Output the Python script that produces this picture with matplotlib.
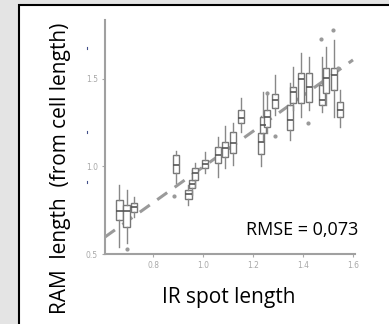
import matplotlib.pyplot as plt
from matplotlib.patches import Rectangle

# box summaries
pos    = [0.665, 0.695, 0.724, 0.892, 0.941, 0.955, 0.968, 1.008, 1.061, 1.088, 1.119, 1.151,
          1.232, 1.240, 1.256, 1.288, 1.348, 1.360, 1.392, 1.424, 1.476, 1.492, 1.524, 1.548]
whislo = [0.540, 0.565, 0.713, 0.906, 0.780, 0.837, 0.885, 0.961, 0.942, 0.990, 1.009, 1.199,
          1.000, 1.151, 1.191, 1.294, 1.151, 1.320, 1.283, 1.323, 1.311, 1.351, 1.283, 1.226]
q1     = [0.694, 0.654, 0.742, 0.963, 0.812, 0.875, 0.923, 0.990, 1.018, 1.056, 1.075, 1.247,
          1.071, 1.191, 1.226, 1.334, 1.209, 1.363, 1.363, 1.369, 1.351, 1.420, 1.437, 1.283]
med    = [0.747, 0.746, 0.770, 1.009, 0.840, 0.898, 0.961, 1.014, 1.066, 1.104, 1.133, 1.275,
          1.142, 1.237, 1.283, 1.380, 1.266, 1.426, 1.500, 1.454, 1.380, 1.506, 1.523, 1.323]
q3     = [0.809, 0.780, 0.790, 1.066, 0.866, 0.923, 0.990, 1.037, 1.113, 1.142, 1.199, 1.323,
          1.190, 1.283, 1.323, 1.414, 1.351, 1.454, 1.534, 1.534, 1.466, 1.563, 1.563, 1.369]
whishi = [0.894, 0.866, 0.827, 1.090, 0.894, 0.980, 1.018, 1.080, 1.170, 1.230, 1.246, 1.390,
          1.289, 1.426, 1.426, 1.523, 1.477, 1.569, 1.649, 1.626, 1.626, 1.683, 1.723, 1.437]

out_x = [0.696, 0.884, 1.256, 1.288, 1.420, 1.472, 1.520, 1.540]
out_y = [0.527, 0.831, 1.420, 1.174, 1.249, 1.729, 1.780, 1.563]

fit_slope, fit_icpt = 1.02, -0.023
fit_x = [0.608, 1.60]

fig = plt.figure(figsize=(3.89, 3.24), dpi=100)
fig.patch.set_facecolor('#e4e4e4')

# white panel with black frame, behind everything
bg = fig.add_axes([0, 0, 1, 1], zorder=-1)
bg.set_xlim(0, 389)
bg.set_ylim(324, 0)
bg.axis('off')
bg.add_patch(Rectangle((19.5, 4.5), 400, 400, facecolor='white', edgecolor='black', lw=1.5))
for yy in [48, 132, 182]:
    bg.plot([87, 87], [yy - 1, yy + 1], color='#44508a', lw=0.8)

ax = fig.add_axes([105 / 389, 70 / 324, 250 / 389, 234 / 324])
ax.set_facecolor('none')

ax.plot(fit_x, [fit_slope * v + fit_icpt for v in fit_x], color='#9a9a9a', lw=2.2,
        dashes=(4, 3), zorder=1)

stats = [dict(whislo=a, q1=b, med=c, q3=d, whishi=e, fliers=[])
         for a, b, c, d, e in zip(whislo, q1, med, q3, whishi)]
ax.bxp(stats, positions=pos, widths=0.026, showcaps=False, patch_artist=True, manage_ticks=False,
       boxprops=dict(facecolor='white', edgecolor='#777777', lw=1.0),
       whiskerprops=dict(color='#888888', lw=1.0),
       medianprops=dict(color='#555555', lw=1.2))
ax.scatter(out_x, out_y, s=4, color='#999999', zorder=3)

ax.set_xlim(0.608, 1.608)
ax.set_ylim(0.5, 1.837)
ax.set_xticks([0.8, 1.0, 1.2, 1.4, 1.6])
ax.set_yticks([0.5, 1.0, 1.5])
ax.set_xticklabels(['0.8', '1.0', '1.2', '1.4', '1.6'])
ax.set_yticklabels(['0.5', '1.0', '1.5'])
ax.tick_params(labelsize=5.5, colors='#a8a8a8', length=2, width=0.8, pad=3)
for s in ['top', 'right']:
    ax.spines[s].set_visible(False)
for s in ['left', 'bottom']:
    ax.spines[s].set_color('#a0a0a0')
    ax.spines[s].set_linewidth(1.5)

fig.text(61 / 389, 1 - 168 / 324, 'RAM  length  (from cell length)', rotation=90,
         ha='center', va='center', fontsize=15, family='Open Sans')
fig.text(229 / 389, 1 - 298 / 324, 'IR spot length', ha='center', va='center',
         fontsize=15, family='Open Sans')
fig.text(302 / 389, 1 - 230 / 324, 'RMSE = 0,073', ha='center', va='center',
         fontsize=13, family='Open Sans')

fig.savefig('out.png', dpi=100, facecolor=fig.get_facecolor())
